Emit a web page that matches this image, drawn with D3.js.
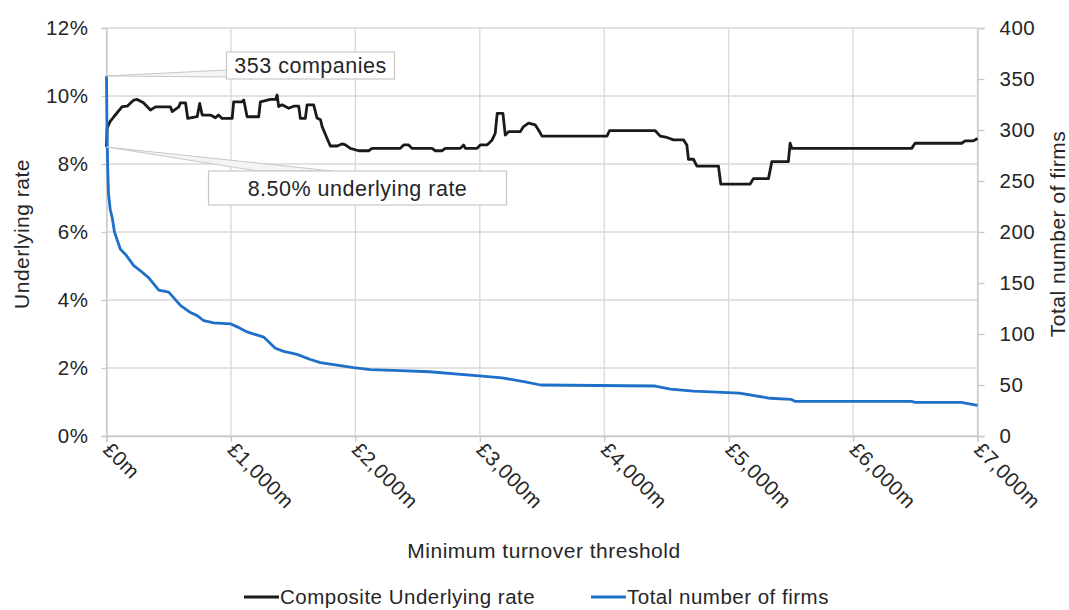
<!DOCTYPE html>
<html>
<head>
<meta charset="utf-8">
<script src="https://cdn.jsdelivr.net/npm/d3@7"></script>
<style>
  body { margin: 0; background: #fff; }
  text { font-family: "Liberation Sans", Arial, sans-serif; fill: #262626; letter-spacing: 0.5px; }
</style>
</head>
<body>
<div id="chart"></div>
<script>
// underlying rate (%) by minimum turnover threshold (£m)
var rateThreshold = [0, 5, 27, 59, 126, 166, 219, 247, 297, 353, 394, 514, 528, 581, 594, 635, 653, 729, 749, 769, 835, 876, 900, 929, 1010, 1022, 1090, 1103, 1130, 1223, 1237, 1317, 1360, 1371, 1384, 1411, 1464, 1504, 1545, 1558, 1598, 1612, 1665, 1692, 1720, 1733, 1773, 1799, 1853, 1893, 1920, 1960, 2027, 2107, 2134, 2361, 2388, 2428, 2455, 2616, 2643, 2696, 2723, 2843, 2870, 2884, 2978, 3004, 3058, 3098, 3124, 3140, 3186, 3205, 3231, 3325, 3352, 3392, 3446, 3472, 3500, 4022, 4043, 4410, 4450, 4504, 4557, 4637, 4664, 4677, 4717, 4745, 4918, 4937, 5173, 5199, 5320, 5347, 5480, 5494, 5508, 6471, 6498, 6873, 6900, 6966, 7000];
var rateValue = [8.5, 9.05, 9.24, 9.39, 9.69, 9.7, 9.88, 9.9, 9.8, 9.59, 9.68, 9.68, 9.54, 9.68, 9.8, 9.8, 9.34, 9.39, 9.78, 9.44, 9.44, 9.36, 9.44, 9.34, 9.34, 9.83, 9.83, 9.88, 9.39, 9.39, 9.83, 9.9, 9.9, 10.03, 9.69, 9.74, 9.64, 9.7, 9.7, 9.34, 9.34, 9.74, 9.74, 9.35, 9.3, 9.1, 8.75, 8.53, 8.53, 8.59, 8.56, 8.46, 8.39, 8.39, 8.46, 8.46, 8.56, 8.56, 8.46, 8.46, 8.39, 8.39, 8.46, 8.46, 8.56, 8.46, 8.46, 8.56, 8.56, 8.7, 8.9, 9.49, 9.49, 8.85, 8.95, 8.95, 9.1, 9.2, 9.15, 9.0, 8.82, 8.82, 8.98, 8.98, 8.82, 8.78, 8.71, 8.71, 8.56, 8.14, 8.14, 7.94, 7.94, 7.41, 7.41, 7.57, 7.57, 8.07, 8.07, 8.61, 8.46, 8.46, 8.61, 8.61, 8.68, 8.68, 8.75];

// total number of firms by threshold (£m)
var firmsThreshold = [0, 4, 10, 16, 30, 46, 64, 112, 153, 219, 273, 340, 420, 500, 594, 675, 729, 782, 862, 996, 1050, 1130, 1263, 1357, 1424, 1532, 1639, 1719, 1826, 1986, 2120, 2361, 2594, 2995, 3179, 3364, 3487, 4410, 4532, 4717, 5086, 5332, 5501, 5532, 6469, 6500, 6869, 7000];
var firmsValue = [353, 300, 262, 238, 222, 214, 200, 183, 178, 167, 162, 155, 143, 141, 128, 121, 118, 113, 111, 110, 107, 102, 97, 86, 83, 80, 75, 72, 70, 67, 65, 64, 63, 59, 57, 53, 50, 49, 46, 44, 42, 37, 36, 34, 34, 33, 33, 30];

var xTicks = [0, 1000, 2000, 3000, 4000, 5000, 6000, 7000];
var rateTicks = [0, 2, 4, 6, 8, 10, 12];
var firmsTicks = [0, 50, 100, 150, 200, 250, 300, 350, 400];
var seriesNames = ["Composite Underlying rate", "Total number of firms"];
var seriesColors = ["#1a1a1a", "#1f70c8"];

var W = 1069, H = 610;
var margin = {top: 28, right: 91.5, bottom: 174, left: 106.5};
var plotW = W - margin.left - margin.right,
    plotH = H - margin.top - margin.bottom;

var svg = d3.select("#chart").append("svg")
    .attr("width", W)
    .attr("height", H);

var g = svg.append("g")
    .attr("transform", "translate(" + margin.left + "," + margin.top + ")");

var x = d3.scaleLinear().domain([0, 7000]).range([0, plotW]);
var yRate = d3.scaleLinear().domain([0, 12]).range([plotH, 0]);
var yFirms = d3.scaleLinear().domain([0, 400]).range([plotH, 0]);

// gridlines
g.append("g").selectAll("line.h")
    .data(rateTicks).enter().append("line")
    .attr("x1", 0).attr("x2", plotW)
    .attr("y1", function(d){ return yRate(d); })
    .attr("y2", function(d){ return yRate(d); })
    .attr("stroke", "#d9d9d9").attr("stroke-width", 1.3);

g.append("g").selectAll("line.v")
    .data(xTicks).enter().append("line")
    .attr("x1", function(d){ return x(d); })
    .attr("x2", function(d){ return x(d); })
    .attr("y1", 0).attr("y2", plotH)
    .attr("stroke", "#d9d9d9").attr("stroke-width", 1.3);

// axes
var leftAxis = g.append("g")
    .call(d3.axisLeft(yRate).tickValues(rateTicks).tickSize(5).tickPadding(13)
        .tickFormat(function(d){ return d + "%"; }));
var rightAxis = g.append("g")
    .attr("transform", "translate(" + plotW + ",0)")
    .call(d3.axisRight(yFirms).tickValues(firmsTicks).tickSize(7).tickPadding(15));
var bottomAxis = g.append("g")
    .attr("transform", "translate(0," + plotH + ")")
    .call(d3.axisBottom(x).tickValues(xTicks).tickSize(6)
        .tickFormat(function(d){ return "£" + d3.format(",")(d) + "m"; }));

[leftAxis, rightAxis, bottomAxis].forEach(function(a){
    a.select(".domain").attr("stroke", "#c8c8c8").attr("stroke-width", 1.3);
    a.selectAll(".tick line").attr("stroke", "#c8c8c8").attr("stroke-width", 1.3);
    a.selectAll("text").style("font-size", "20.5px").attr("fill", "#262626");
});

bottomAxis.selectAll("text")
    .attr("text-anchor", "start")
    .attr("dy", "0")
    .attr("y", 0)
    .attr("transform", "translate(-5,15) rotate(45)");

// lines
var rateLine = d3.line()
    .x(function(d){ return x(d[0]); })
    .y(function(d){ return yRate(d[1]); });
var firmsLine = d3.line()
    .x(function(d){ return x(d[0]); })
    .y(function(d){ return yFirms(d[1]); });

g.append("path")
    .datum(rateThreshold.map(function(t, i){ return [t, rateValue[i]]; }))
    .attr("d", rateLine)
    .attr("fill", "none").attr("stroke", seriesColors[0])
    .attr("stroke-width", 2.8).attr("stroke-linejoin", "round");

g.append("path")
    .datum(firmsThreshold.map(function(t, i){ return [t, firmsValue[i]]; }))
    .attr("d", firmsLine)
    .attr("fill", "none").attr("stroke", seriesColors[1])
    .attr("stroke-width", 2.8).attr("stroke-linejoin", "round");

// callouts
function callout(px, py, bx, by, bw, bh, a, b, label) {
    g.append("polygon")
        .attr("points", [[px, py], a, b].map(function(p){ return p.join(","); }).join(" "))
        .attr("fill", "#f4f4f4").attr("stroke", "#c8c8c8").attr("stroke-width", 1);
    g.append("rect")
        .attr("x", bx).attr("y", by).attr("width", bw).attr("height", bh)
        .attr("fill", "#fff").attr("stroke", "#c8c8c8").attr("stroke-width", 1.2);
    g.append("text")
        .attr("x", bx + bw / 2).attr("y", by + bh / 2 + 7.5)
        .attr("text-anchor", "middle")
        .style("font-size", "21.5px")
        .text(label);
}

var p1x = x(0), p1y = yFirms(firmsValue[0]);
callout(p1x, p1y, 120, 24, 168, 27, [120, 42], [120, 49], firmsValue[0] + " companies");

var p2x = x(0), p2y = yRate(rateValue[0]);
callout(p2x, p2y, 102, 143, 298, 34, [151, 143], [226, 143], d3.format(".2f")(rateValue[0]) + "% underlying rate");

// axis titles
svg.append("text")
    .attr("transform", "translate(29," + (margin.top + plotH / 2 + 2) + ") rotate(-90)")
    .attr("text-anchor", "middle")
    .style("font-size", "21px")
    .text("Underlying rate");

svg.append("text")
    .attr("transform", "translate(1065," + (margin.top + plotH / 2 + 2) + ") rotate(-90)")
    .attr("text-anchor", "middle")
    .style("font-size", "21px")
    .text("Total number of firms");

svg.append("text")
    .attr("x", 544).attr("y", 558)
    .attr("text-anchor", "middle")
    .style("font-size", "21px")
    .text("Minimum turnover threshold");

// legend
var legendX = [244, 591];
seriesNames.forEach(function(name, i){
    var lg = svg.append("g").attr("transform", "translate(" + legendX[i] + ",597)");
    lg.append("line")
        .attr("x1", 0).attr("x2", 35).attr("y1", 0).attr("y2", 0)
        .attr("stroke", seriesColors[i]).attr("stroke-width", 2.8);
    lg.append("text")
        .attr("x", 36).attr("y", 7)
        .style("font-size", "20.5px")
        .text(name);
});
</script>
</body>
</html>
